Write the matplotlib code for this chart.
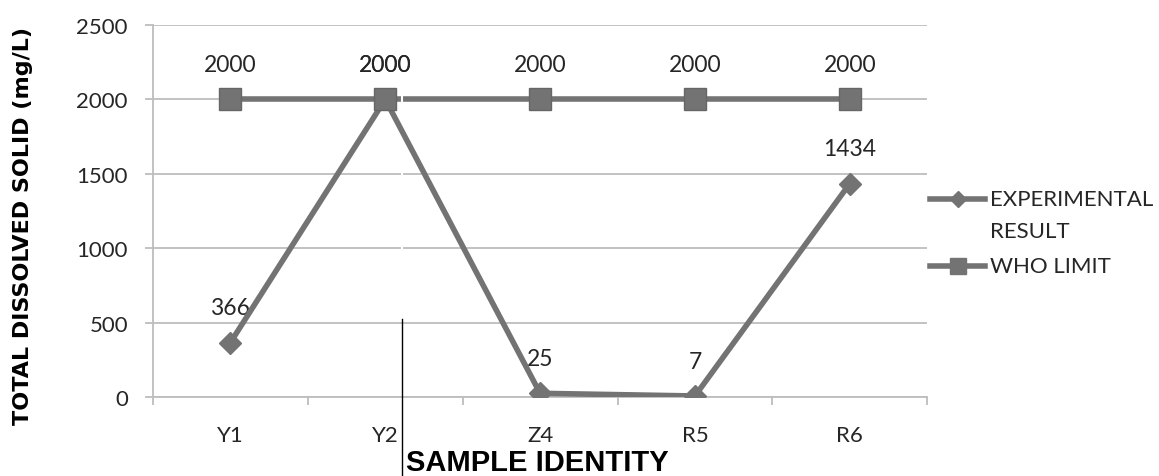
import matplotlib
matplotlib.use("Agg")
import matplotlib.pyplot as plt
from matplotlib.lines import Line2D
import numpy as np

samples = ["Y1", "Y2", "Z4", "R5", "R6"]
experimental = [366, 2000, 25, 7, 1434]
who_limit = [2000, 2000, 2000, 2000, 2000]

#_____________________________________________________________________________
def main():

    plt.rcParams["font.family"] = ["Lato", "DejaVu Sans"]

    col = "#737373"
    gcol = "#bdbdbd"
    tcol = "#262626"

    fig = plt.figure(figsize=(11.59, 4.77), dpi=100)
    ax = fig.add_axes([0.132, 0.1656, 0.668, 0.78])

    x = np.arange(len(samples))

    ax.plot(x, experimental, color=col, lw=4, marker="D", ms=11, zorder=4)
    ax.plot(x, who_limit, color=col, lw=4, zorder=3)
    ax.plot(x, who_limit, ls="none", marker="s", ms=16, color=col,
            markeredgecolor="#666666", zorder=5)

    #data labels above each point
    for xi, v in zip(x, experimental):
        ax.annotate(str(v), (xi, v), xytext=(0, 25), textcoords="offset points",
                    ha="center", va="center", fontsize=16.5, color=tcol)
    for xi, v in zip(x, who_limit):
        ax.annotate(str(v), (xi, v), xytext=(0, 25), textcoords="offset points",
                    ha="center", va="center", fontsize=16.5, color=tcol)

    ax.set_xlim(-0.5, len(samples) - 0.5)
    ax.set_ylim(0, 2500)
    ax.set_yticks(np.arange(0, 2501, 500))
    ax.set_xticks(x)
    ax.set_xticklabels(samples)
    ax.set_xticks(np.arange(-0.5, len(samples), 1.0), minor=True)

    ax.grid(True, axis="y", color=gcol, lw=1.3)
    ax.set_axisbelow(True)

    for s in ["top", "right"]:
        ax.spines[s].set_visible(False)
    ax.spines["left"].set_color(gcol)
    ax.spines["bottom"].set_color(gcol)
    ax.spines["left"].set_linewidth(1.3)
    ax.spines["bottom"].set_linewidth(1.3)

    ax.tick_params(axis="y", length=6, color=gcol, width=1.3, labelsize=16,
                   labelcolor=tcol, pad=12)
    ax.tick_params(axis="x", which="major", length=0, labelsize=16,
                   labelcolor=tcol, pad=20)
    ax.tick_params(axis="x", which="minor", length=6, color=gcol, width=1.3)

    ax.set_xlabel("SAMPLE IDENTITY", fontsize=21, fontweight="bold",
                  family="Liberation Sans", color="black", va="baseline")
    ax.xaxis.set_label_coords(0.497, -0.197)
    ax.set_ylabel("TOTAL DISSOLVED SOLID (mg/L)", fontsize=16, fontweight="bold",
                  family="DejaVu Sans", color="black")
    ax.yaxis.set_label_coords(-0.155, 0.461)

    #legend drawn by hand, handle level with the first text line
    lx0, lx1, ltx = 930/1159, 985/1159, 990/1159
    entries = [(["EXPERIMENTAL", "RESULT"], "D", 8, 200),
               (["WHO LIMIT"], "s", 12, 267)]
    for lines, mk, ms, ypx in entries:
        yy = 1 - ypx/477
        fig.add_artist(Line2D([lx0, lx1], [yy, yy], color=col, lw=4))
        fig.add_artist(Line2D([(lx0 + lx1)/2], [yy], color=col, marker=mk,
                              ms=ms, ls="none"))
        for i, txt in enumerate(lines):
            fig.text(ltx, 1 - (ypx + 32*i)/477, txt, fontsize=16, color=tcol,
                     ha="left", va="center")

    #stray rule lines in the figure
    fig.add_artist(Line2D([402/1159, 402/1159], [1 - 320/477, 0],
                          color="black", lw=1))
    ax.add_line(Line2D([402/1159, 402/1159], [1 - 82/477, 1 - 320/477],
                       color="white", lw=1.5, zorder=3.5,
                       transform=fig.transFigure, clip_on=False))

    fig.savefig("out.png", dpi=100)

#main

#_____________________________________________________________________________
if __name__ == "__main__":

    main()
